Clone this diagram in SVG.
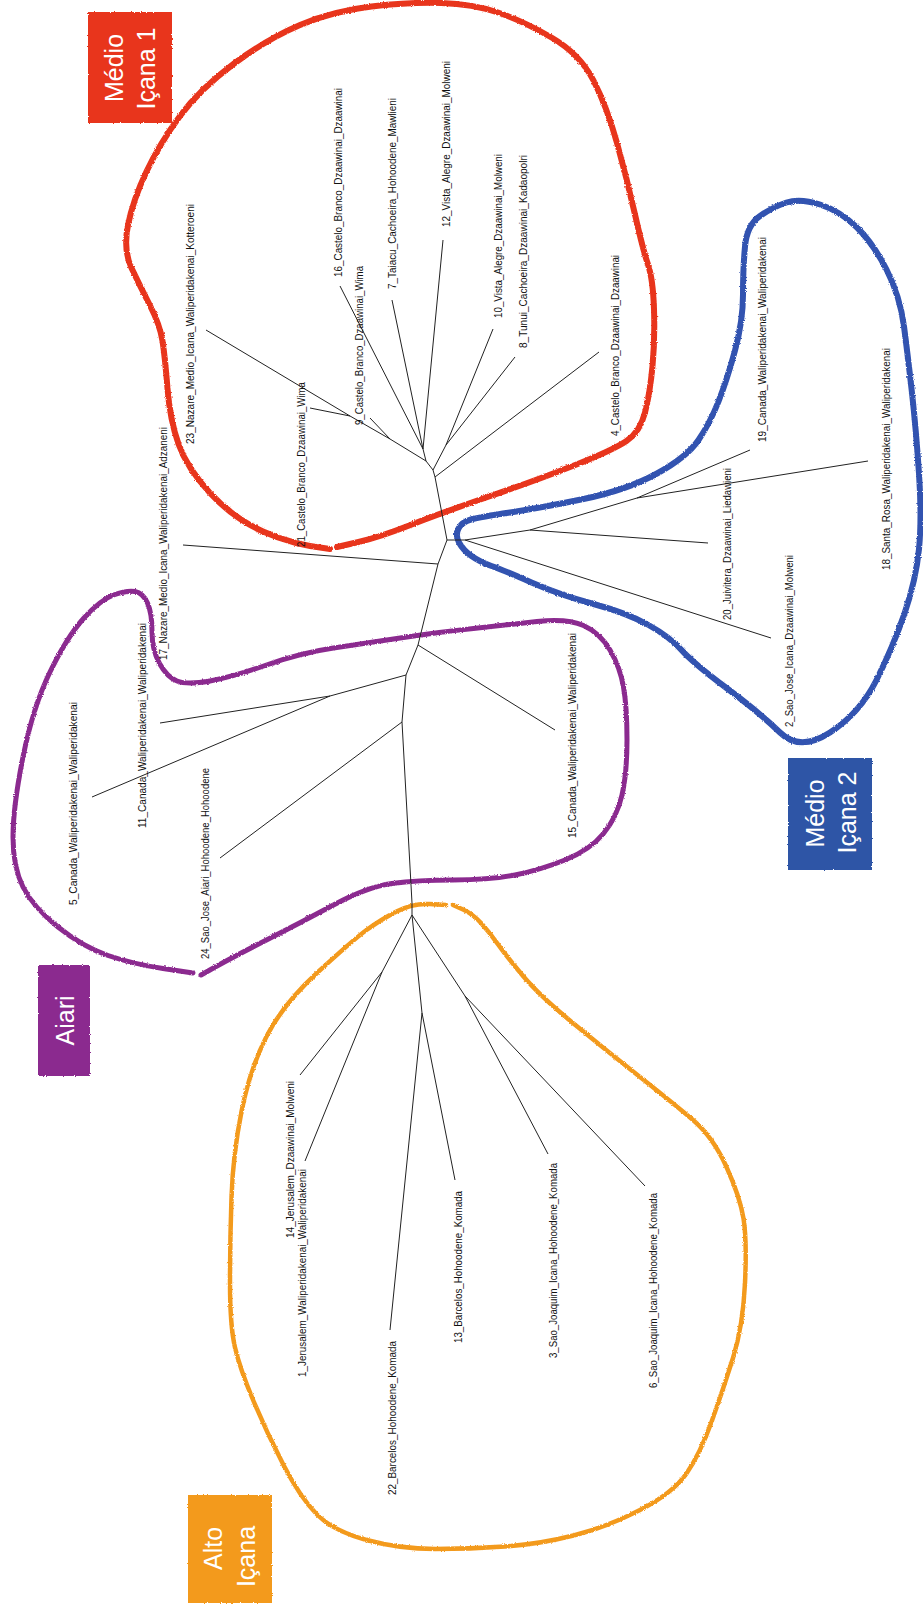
<svg xmlns="http://www.w3.org/2000/svg" width="923" height="1612" viewBox="0 0 923 1612">
<style>
.lbl{font-family:"Liberation Sans Narrow","Liberation Sans",Arial,sans-serif;font-size:11.5px;fill:#111}
.box-t{font-family:"Liberation Sans",Arial,sans-serif;font-size:25px;fill:#fff;text-anchor:middle}
.edge{stroke:#222;stroke-width:1;fill:none;stroke-linejoin:round}
.loop{fill:none;stroke-linecap:round;stroke-linejoin:round}
</style>
<defs>
<filter id="rough" x="-5%" y="-5%" width="110%" height="110%">
<feTurbulence type="fractalNoise" baseFrequency="0.9" numOctaves="2" seed="3" result="n"/>
<feDisplacementMap in="SourceGraphic" in2="n" scale="2.5" xChannelSelector="R" yChannelSelector="G"/>
</filter>
</defs>
<rect width="923" height="1612" fill="#fff"/>

<g id="group-loops">
<path id="loop-medio-icana-1" class="loop" stroke="#E8341C" stroke-width="6" filter="url(#rough)" d="M337,547 L358.5,542 Q380,537 410.5,525 Q441,513 490.5,496 Q540,479 576.5,464.5 Q613,450 626.5,441 Q640,432 645,412.5 Q650,393 652.5,366 Q655,339 654,309 Q653,279 648,264.5 Q643,250 635,214.5 Q627,179 617,143 Q607,107 593.5,80.5 Q580,54 551.5,37.5 Q523,21 498,12.5 Q473,4 441.5,3 Q410,2 371.5,6.5 Q333,11 300,25 Q267,39 233.5,64 Q200,89 180,116 Q160,143 146.5,171.5 Q133,200 128,225 Q123,250 131.5,268 Q140,286 150,305.5 Q160,325 162.5,341 Q165,357 167.5,388.5 Q170,420 178.5,444 Q187,468 210,493 Q233,518 263,531.5 Q293,545 330,549"/>
<path id="loop-medio-icana-2" class="loop" stroke="#3152B0" stroke-width="6" filter="url(#rough)" d="M459,542.5 Q455,535 458.5,528.5 Q462,522 471,519.5 Q480,517 510,512.5 Q540,508 583.5,499 Q627,490 657,473.5 Q687,457 698.5,440 Q710,423 718.5,401.5 Q727,380 735,350.5 Q743,321 743,294.5 Q743,268 745,246.5 Q747,225 760,216 Q773,207 786.5,202.5 Q800,198 820,204.5 Q840,211 856.5,227 Q873,243 886.5,269.5 Q900,296 904,326.5 Q908,357 912,393 Q916,429 919,473.5 Q922,518 919,549 Q916,580 904.5,613.5 Q893,647 876.5,680 Q860,713 830,732.5 Q800,752 780,732.5 Q760,713 726.5,688 Q693,663 681.5,650 Q670,637 648.5,625 Q627,613 593.5,604 Q560,595 531.5,582.5 Q503,570 491.5,566 Q480,562 471.5,556 Q463,550 459,542.5 Z"/>
<path id="loop-aiari" class="loop" stroke="#8B2A8F" stroke-width="5" filter="url(#rough)" d="M201,975 L217,966 Q233,957 266.5,940 Q300,923 333.5,905 Q367,887 392,883.5 Q417,880 453.5,880 Q490,880 515,875 Q540,870 565,860 Q590,850 603.5,833.5 Q617,817 622,795 Q627,773 627,740 Q627,707 623.5,687 Q620,667 610,650 Q600,633 583.5,625.5 Q567,618 537,621.5 Q507,625 473.5,628.5 Q440,632 403.5,637.5 Q367,643 333.5,648 Q300,653 266.5,665 Q233,677 210,681 Q187,685 177,681 Q167,677 159.5,663.5 Q152,650 152,631.5 Q152,613 147.5,603 Q143,593 135,591.5 Q127,590 113.5,595 Q100,600 83.5,618.5 Q67,637 50,672 Q33,707 23,757 Q13,807 13,837 Q13,867 23,887 Q33,907 58,927 Q83,947 108,955.5 Q133,964 163,968.5 L193,973"/>
<path id="loop-alto-icana" class="loop" stroke="#F39A1F" stroke-width="4.5" filter="url(#rough)" d="M453,905 L463,909.5 Q473,914 481.5,923.5 Q490,933 498.5,945 Q507,957 523.5,976.5 Q540,996 573.5,1023.5 Q607,1051 640,1077 Q673,1103 693,1120 Q713,1137 726.5,1167 Q740,1197 743.5,1218.5 Q747,1240 745,1283 Q743,1326 733,1358 Q723,1390 711.5,1422 Q700,1454 686.5,1473.5 Q673,1493 640,1510 Q607,1527 573.5,1535.5 Q540,1544 505,1546.5 Q470,1549 435,1549 Q400,1549 366.5,1540 Q333,1531 316.5,1514 Q300,1497 283.5,1465 Q267,1433 253.5,1401 Q240,1369 235,1347.5 Q230,1326 230,1283 Q230,1240 231.5,1197 Q233,1154 241.5,1111.5 Q250,1069 266.5,1036.5 Q283,1004 318,972 Q353,940 366.5,930 Q380,920 396.5,911.5 Q413,903 429.5,904 L446,905"/>
</g>

<g id="connectors">
<polyline class="edge" points="426,461 433,470 435,477 447,540 438,564 418,645 406,675 402,722 412,903 412,915"/>
<polyline class="edge" points="206,330 350,416 390,439 426,461"/>
<line class="edge" x1="310" y1="408" x2="350" y2="416"/>
<line class="edge" x1="370" y1="418" x2="390" y2="439"/>
<line class="edge" x1="340" y1="286" x2="423" y2="449"/>
<line class="edge" x1="392" y1="300" x2="423" y2="449"/>
<line class="edge" x1="443" y1="240" x2="423" y2="449"/>
<line class="edge" x1="423" y1="449" x2="426" y2="461"/>
<line class="edge" x1="433" y1="470" x2="446" y2="445"/>
<line class="edge" x1="446" y1="445" x2="493" y2="329"/>
<line class="edge" x1="446" y1="445" x2="515" y2="357"/>
<line class="edge" x1="435" y1="477" x2="599" y2="352"/>
<line class="edge" x1="447" y1="540" x2="465" y2="540"/>
<line class="edge" x1="465" y1="540" x2="530" y2="530"/>
<line class="edge" x1="530" y1="530" x2="637" y2="498"/>
<line class="edge" x1="637" y1="498" x2="750" y2="450"/>
<line class="edge" x1="637" y1="498" x2="868" y2="461"/>
<line class="edge" x1="530" y1="530" x2="708" y2="543"/>
<line class="edge" x1="465" y1="540" x2="771" y2="638"/>
<line class="edge" x1="438" y1="564" x2="183" y2="545"/>
<line class="edge" x1="418" y1="645" x2="555" y2="730"/>
<line class="edge" x1="406" y1="675" x2="330" y2="696"/>
<line class="edge" x1="330" y1="696" x2="160" y2="723"/>
<line class="edge" x1="330" y1="696" x2="92" y2="797"/>
<line class="edge" x1="402" y1="722" x2="220" y2="858"/>
<line class="edge" x1="412" y1="915" x2="382" y2="972"/>
<line class="edge" x1="382" y1="972" x2="300" y2="1075"/>
<line class="edge" x1="382" y1="972" x2="305" y2="1161"/>
<line class="edge" x1="412" y1="915" x2="422" y2="1013"/>
<line class="edge" x1="422" y1="1013" x2="390" y2="1330"/>
<line class="edge" x1="422" y1="1013" x2="455" y2="1180"/>
<line class="edge" x1="412" y1="915" x2="465" y2="996"/>
<line class="edge" x1="465" y1="996" x2="548" y2="1154"/>
<line class="edge" x1="465" y1="996" x2="645" y2="1186"/>
</g>

<g id="box-medio-icana-1">
<rect x="88" y="12" width="84" height="111" fill="#E8341C" filter="url(#rough)"/>
<text class="box-t" transform="translate(122.5,68) rotate(-90)">Médio</text>
<text class="box-t" transform="translate(155,68.5) rotate(-90)">Içana 1</text>
</g>
<g id="box-medio-icana-2">
<rect x="788" y="758" width="84" height="112" fill="#2F54A6" filter="url(#rough)"/>
<text class="box-t" transform="translate(824,813.5) rotate(-90)">Médio</text>
<text class="box-t" transform="translate(856,812.5) rotate(-90)">Içana 2</text>
</g>
<g id="box-aiari">
<rect x="38" y="965" width="52" height="111" fill="#8B2A8F" filter="url(#rough)"/>
<text class="box-t" transform="translate(74,1020.5) rotate(-90)">Aiari</text>
</g>
<g id="box-alto-icana">
<rect x="188" y="1495" width="84" height="108" fill="#F39A1F" filter="url(#rough)"/>
<text class="box-t" transform="translate(222,1548.5) rotate(-90)">Alto</text>
<text class="box-t" transform="translate(255,1556.5) rotate(-90)">Içana</text>
</g>

<g id="leaf-23"><text class="lbl" transform="translate(194,444) rotate(-90)" textLength="240" lengthAdjust="spacingAndGlyphs">23_Nazare_Medio_Icana_Waliperidakenai_Kotteroeni</text></g>
<g id="leaf-21"><text class="lbl" transform="translate(305,547) rotate(-90)" textLength="165" lengthAdjust="spacingAndGlyphs">21_Castelo_Branco_Dzaawinai_Wima</text></g>
<g id="leaf-9"><text class="lbl" transform="translate(363,425) rotate(-90)" textLength="159" lengthAdjust="spacingAndGlyphs">9_Castelo_Branco_Dzaawinai_Wima</text></g>
<g id="leaf-16"><text class="lbl" transform="translate(342,277) rotate(-90)" textLength="189" lengthAdjust="spacingAndGlyphs">16_Castelo_Branco_Dzaawinai_Dzaawinai</text></g>
<g id="leaf-7"><text class="lbl" transform="translate(396,289) rotate(-90)" textLength="191" lengthAdjust="spacingAndGlyphs">7_Taiacu_Cachoeira_Hohoodene_Mawlieni</text></g>
<g id="leaf-12"><text class="lbl" transform="translate(450,227) rotate(-90)" textLength="166" lengthAdjust="spacingAndGlyphs">12_Vista_Alegre_Dzaawinai_Molweni</text></g>
<g id="leaf-10"><text class="lbl" transform="translate(502,318) rotate(-90)" textLength="164" lengthAdjust="spacingAndGlyphs">10_Vista_Alegre_Dzaawinai_Molweni</text></g>
<g id="leaf-8"><text class="lbl" transform="translate(527,348) rotate(-90)" textLength="193" lengthAdjust="spacingAndGlyphs">8_Tunui_Cachoeira_Dzaawinai_Kadaopolri</text></g>
<g id="leaf-4"><text class="lbl" transform="translate(619,436) rotate(-90)" textLength="181" lengthAdjust="spacingAndGlyphs">4_Castelo_Branco_Dzaawinai_Dzaawinai</text></g>
<g id="leaf-19"><text class="lbl" transform="translate(766,442) rotate(-90)" textLength="205" lengthAdjust="spacingAndGlyphs">19_Canada_Waliperidakenai_Waliperidakenai</text></g>
<g id="leaf-18"><text class="lbl" transform="translate(890,570) rotate(-90)" textLength="222" lengthAdjust="spacingAndGlyphs">18_Santa_Rosa_Waliperidakenai_Waliperidakenai</text></g>
<g id="leaf-20"><text class="lbl" transform="translate(731,620) rotate(-90)" textLength="152" lengthAdjust="spacingAndGlyphs">20_Juivitera_Dzaawinai_Liedawieni</text></g>
<g id="leaf-2"><text class="lbl" transform="translate(793,727) rotate(-90)" textLength="172" lengthAdjust="spacingAndGlyphs">2_Sao_Jose_Icana_Dzaawinai_Molweni</text></g>
<g id="leaf-17"><text class="lbl" transform="translate(167,660) rotate(-90)" textLength="233" lengthAdjust="spacingAndGlyphs">17_Nazare_Medio_Icana_Waliperidakenai_Adzaneni</text></g>
<g id="leaf-11"><text class="lbl" transform="translate(146,828) rotate(-90)" textLength="205" lengthAdjust="spacingAndGlyphs">11_Canada_Waliperidakenai_Waliperidakenai</text></g>
<g id="leaf-5"><text class="lbl" transform="translate(77,905) rotate(-90)" textLength="203" lengthAdjust="spacingAndGlyphs">5_Canada_Waliperidakenai_Waliperidakenai</text></g>
<g id="leaf-24"><text class="lbl" transform="translate(209,959) rotate(-90)" textLength="191" lengthAdjust="spacingAndGlyphs">24_Sao_Jose_Aiari_Hohoodene_Hohoodene</text></g>
<g id="leaf-15"><text class="lbl" transform="translate(576,838) rotate(-90)" textLength="205" lengthAdjust="spacingAndGlyphs">15_Canada_Waliperidakenai_Waliperidakenai</text></g>
<g id="leaf-14"><text class="lbl" transform="translate(294,1238) rotate(-90)" textLength="157" lengthAdjust="spacingAndGlyphs">14_Jerusalem_Dzaawinai_Molweni</text></g>
<g id="leaf-1"><text class="lbl" transform="translate(306,1377) rotate(-90)" textLength="208" lengthAdjust="spacingAndGlyphs">1_Jerusalem_Waliperidakenai_Waliperidakenai</text></g>
<g id="leaf-22"><text class="lbl" transform="translate(396,1495) rotate(-90)" textLength="154" lengthAdjust="spacingAndGlyphs">22_Barcelos_Hohoodene_Komada</text></g>
<g id="leaf-13"><text class="lbl" transform="translate(462,1343) rotate(-90)" textLength="152" lengthAdjust="spacingAndGlyphs">13_Barcelos_Hohoodene_Komada</text></g>
<g id="leaf-3"><text class="lbl" transform="translate(557,1358) rotate(-90)" textLength="195" lengthAdjust="spacingAndGlyphs">3_Sao_Joaquim_Icana_Hohoodene_Komada</text></g>
<g id="leaf-6"><text class="lbl" transform="translate(657,1388) rotate(-90)" textLength="195" lengthAdjust="spacingAndGlyphs">6_Sao_Joaquim_Icana_Hohoodene_Komada</text></g>
</svg>
